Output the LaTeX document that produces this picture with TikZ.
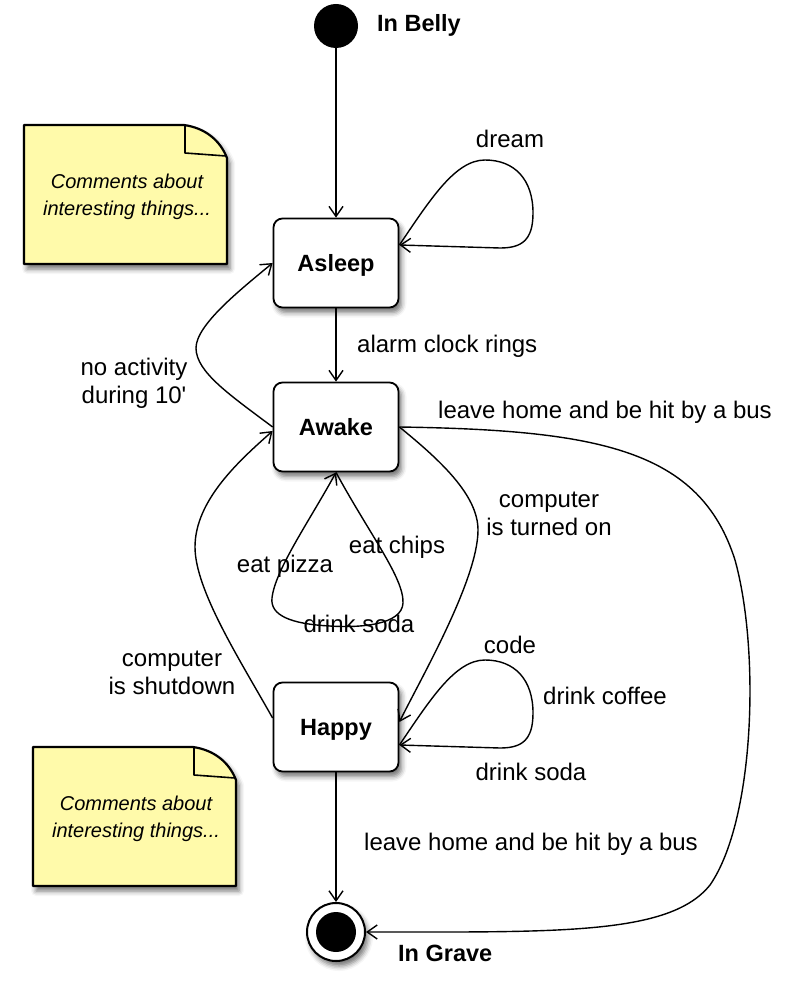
\documentclass[tikz,border=0pt]{standalone}
\usepackage{fontspec}
\setmainfont{Liberation Sans}
\usetikzlibrary{arrows.meta,shadows.blur}
\definecolor{noteyellow}{RGB}{255,250,170}
\begin{document}
\begin{tikzpicture}[x=1pt,y=-1pt,
  every node/.style={font=\fontsize{24}{28}\selectfont},
  state/.style={draw, line width=1.8pt, rounded corners=9pt, fill=white,
    minimum width=125pt, minimum height=89pt, text height=17.2pt, text depth=0pt,
    font=\fontsize{23.5}{28}\selectfont\bfseries,
    blur shadow={shadow xshift=3pt, shadow yshift=-5pt, shadow blur radius=5pt, shadow opacity=55}},
  lbl/.style={align=center, inner sep=0pt},
  boldlbl/.style={inner sep=0pt, font=\fontsize{23.5}{28}\selectfont\bfseries},
  notetext/.style={align=center, inner sep=0pt, font=\fontsize{20}{27}\selectfont\itshape},
  noteshape/.style={draw, line width=2.2pt, fill=noteyellow, line join=round,
    blur shadow={shadow xshift=3pt, shadow yshift=-5pt, shadow blur radius=5pt, shadow opacity=55}},
  notefold/.style={draw, line width=1.6pt, line join=round},
  arr/.style={line width=1.4pt, -{Straight Barb[length=10pt,width=14pt]}},
]
\useasboundingbox (0,0) rectangle (784,992);

% notes
\foreach \dx/\dy in {0/0, 9/622}{
  \begin{scope}[shift={(\dx,\dy)}]
    \path[noteshape] (24,125) -- (184,125) .. controls (205,128) and (220,140) .. (227,158) -- (227,264) -- (24,264) -- cycle;
    \path[notefold] (185,126) -- (185,153) -- (226,156);
  \end{scope}
}
\node[notetext] (note1) at (127,197) {Comments about\\interesting things...};
\node[notetext] (note2) at (136,819) {Comments about\\interesting things...};

% states
\node[circle, fill=black, minimum size=44pt, inner sep=0pt] (init) at (336,26) {};
\node[boldlbl, anchor=west] (inbelly) at (377,25) {In Belly};
\node[state] (asleep) at (336,263) {Asleep};
\node[state] (awake) at (336,427) {Awake};
\node[state] (happy) at (336,727) {Happy};
\node[circle, draw, line width=2pt, fill=white, minimum size=58pt, inner sep=0pt,
  blur shadow={shadow xshift=3pt, shadow yshift=-5pt, shadow blur radius=5pt, shadow opacity=55}] (final) at (336,932) {};
\node[circle, fill=black, minimum size=40pt, inner sep=0pt] (finalcore) at (final.center) {};
\node[boldlbl, anchor=west] (ingrave) at (398,953) {In Grave};

% anchor points
\coordinate (dreampt) at ([yshift=18pt]asleep.east);
\coordinate (happyloop) at ([yshift=-18pt]happy.east);
\coordinate (happyin) at ([yshift=5pt]happy.east);
\coordinate (happyout) at ([yshift=9pt]happy.west);
\coordinate (awakein) at ([yshift=-4pt]awake.west);

% connectors
\draw[arr] (init) -- (asleep);
\draw[arr] (asleep) -- (awake);
\draw[arr] (happy) -- (final);

\draw[arr] (dreampt) .. controls (430,200) and (455,160) .. (485,160)
  .. controls (515,160) and (533,180) .. (533,213)
  .. controls (533,240) and (522,248) .. (500,248) -- (dreampt);

\draw[arr] (happyloop) .. controls (430,700) and (455,660) .. (485,660)
  .. controls (515,660) and (533,680) .. (533,713)
  .. controls (533,740) and (522,748) .. (500,748) -- (happyloop);

\draw[arr] (awake.south) .. controls (370,535) and (404,578) .. (403,603)
  .. controls (402,625) and (360,628) .. (330,626)
  .. controls (290,624) and (270,615) .. (272,598)
  .. controls (275,570) and (310,520) .. (awake.south);

\draw[arr] (awake.west) .. controls (230,395) and (196,372) .. (196,348)
  .. controls (196,325) and (240,290) .. (asleep.west);

\draw[arr] (happyout) .. controls (240,660) and (195,590) .. (195,547)
  .. controls (195,500) and (240,460) .. (awakein);

\draw[arr] (awake.east) .. controls (440,460) and (478,495) .. (478,530)
  .. controls (478,580) and (420,680) .. (happyin);

\draw[arr] (awake.east) .. controls (600,430) and (700,450) .. (735,560)
  .. controls (760,650) and (755,820) .. (710,885)
  .. controls (670,935) and (560,932) .. (final.east);

% labels
\node[lbl] (ldream) at (510,139) {dream};
\node[lbl, anchor=west] (lalarm) at (357,346) {alarm clock rings};
\node[lbl] (lnoact) at (134,383) {no activity\\during 10\textquotesingle};
\node[lbl] (lbus1) at (605,412) {leave home and be hit by a bus};
\node[lbl] (lcompon) at (549,514) {computer\\is turned on};
\node[lbl] (lchips) at (397,547) {eat chips};
\node[lbl] (lpizza) at (285,566) {eat pizza};
\node[lbl] (lsoda1) at (359,624) {drink soda};
\node[lbl] (lcode) at (510,645) {code};
\node[lbl] (lcoffee) at (605,696) {drink coffee};
\node[lbl] (lsoda2) at (531,772) {drink soda};
\node[lbl] (lshut) at (172,673) {computer\\is shutdown};
\node[lbl] (lbus2) at (531,844) {leave home and be hit by a bus};
\end{tikzpicture}
\end{document}
